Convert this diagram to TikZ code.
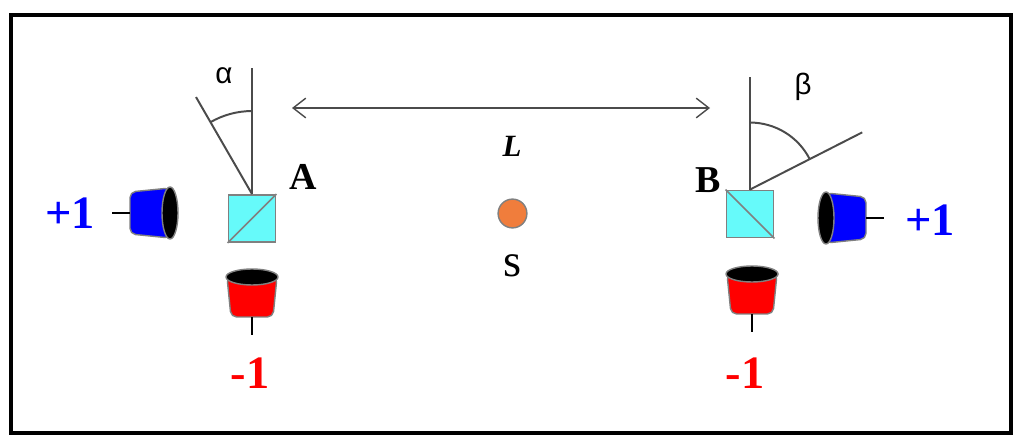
\documentclass[tikz,border=0pt]{standalone}
\usepackage{fontspec}
\setmainfont{Liberation Serif}
\newfontfamily\greekfont{Liberation Sans}
\usetikzlibrary{arrows.meta}
\definecolor{cubecyan}{RGB}{102,250,250}
\definecolor{srcorange}{RGB}{240,125,60}
\definecolor{linegray}{RGB}{75,75,75}
\tikzset{
  axis/.style={draw=linegray, line width=1.4pt},
  cube/.style={draw=gray, fill=cubecyan, line width=1.2pt, minimum size=1.18cm, inner sep=0pt},
  lbl/.style={inner sep=0pt, font=\fontsize{27}{30}\selectfont\bfseries},
  outcome/.style={inner sep=0pt, font=\fontsize{33}{36}\selectfont\bfseries},
  angl/.style={inner sep=0pt, font=\fontsize{21}{24}\selectfont\greekfont},
  pics/detector/.style={code={
    \filldraw[draw=gray, fill=#1, line width=1pt, rounded corners=4pt]
      (-25,0) -- (-21,-40) -- (21,-40) -- (25,0) -- cycle;
    \filldraw[draw=gray, fill=black, line width=1pt] (0,0) ellipse (26 and 8);
    \draw[line width=1.5pt] (0,-40) -- (0,-58);
  }}
}
\begin{document}
\begin{tikzpicture}[x=0.025cm, y=0.025cm]
\useasboundingbox (0,0) rectangle (1024,446);
\draw[line width=3.5pt] (11,13) rectangle (1011,431);
% distance between the stations
\coordinate (Lleft) at (292,338);
\coordinate (Lright) at (710,338);
\draw[axis, line width=1pt, {Straight Barb[length=9pt,width=14pt]}-{Straight Barb[length=9pt,width=14pt]}] (Lleft) -- (Lright);
\node[inner sep=0pt, font=\fontsize{22}{26}\selectfont\bfseries\itshape] (Lbl) at (512,300) {L};
% source
\node[circle, draw=gray, fill=srcorange, line width=1pt, minimum size=0.72cm, inner sep=0pt] (src) at (512.5,232.5) {};
\node[inner sep=0pt, font=\fontsize{33}{36}\selectfont] (srcLbl) at (513,180) {s};
% station A
\node[cube] (cubeA) at (252,227.5) {};
\draw[draw=gray, line width=1.2pt] (cubeA.south west) -- (cubeA.north east);
\coordinate (Atop) at (252,378);
\draw[axis] (cubeA.north) -- (Atop);
\draw[axis] (cubeA.north) -- ++(120:112);
\draw[axis] ([shift={(90:83)}]cubeA.north) arc[start angle=90, end angle=120, radius=83];
\node[angl] (alpha) at (224,370) {α};
\node[lbl] (Albl) at (303,269) {A};
\pic[rotate=-90] at (170,233) {detector=blue};
\pic at (252,169) {detector=red};
\node[outcome, text=blue] (Aplus) at (70,233) {+1};
\node[outcome, text=red] (Aminus) at (250,73) {-1};
% station B
\node[cube] (cubeB) at (750,232) {};
\draw[draw=gray, line width=1.2pt] (cubeB.north west) -- (cubeB.south east);
\coordinate (Btop) at (750,369);
\draw[axis] (cubeB.north) -- (Btop);
\draw[axis] (cubeB.north) -- ++(27:126);
\draw[axis] ([shift={(27:67)}]cubeB.north) arc[start angle=27, end angle=90, radius=67];
\node[angl] (beta) at (803,359) {β};
\node[lbl] (Blbl) at (708,266) {B};
\pic[rotate=90] at (826,228) {detector=blue};
\pic at (752,172) {detector=red};
\node[outcome, text=blue] (Bplus) at (930,226) {+1};
\node[outcome, text=red] (Bminus) at (745,73) {-1};
\end{tikzpicture}
\end{document}
